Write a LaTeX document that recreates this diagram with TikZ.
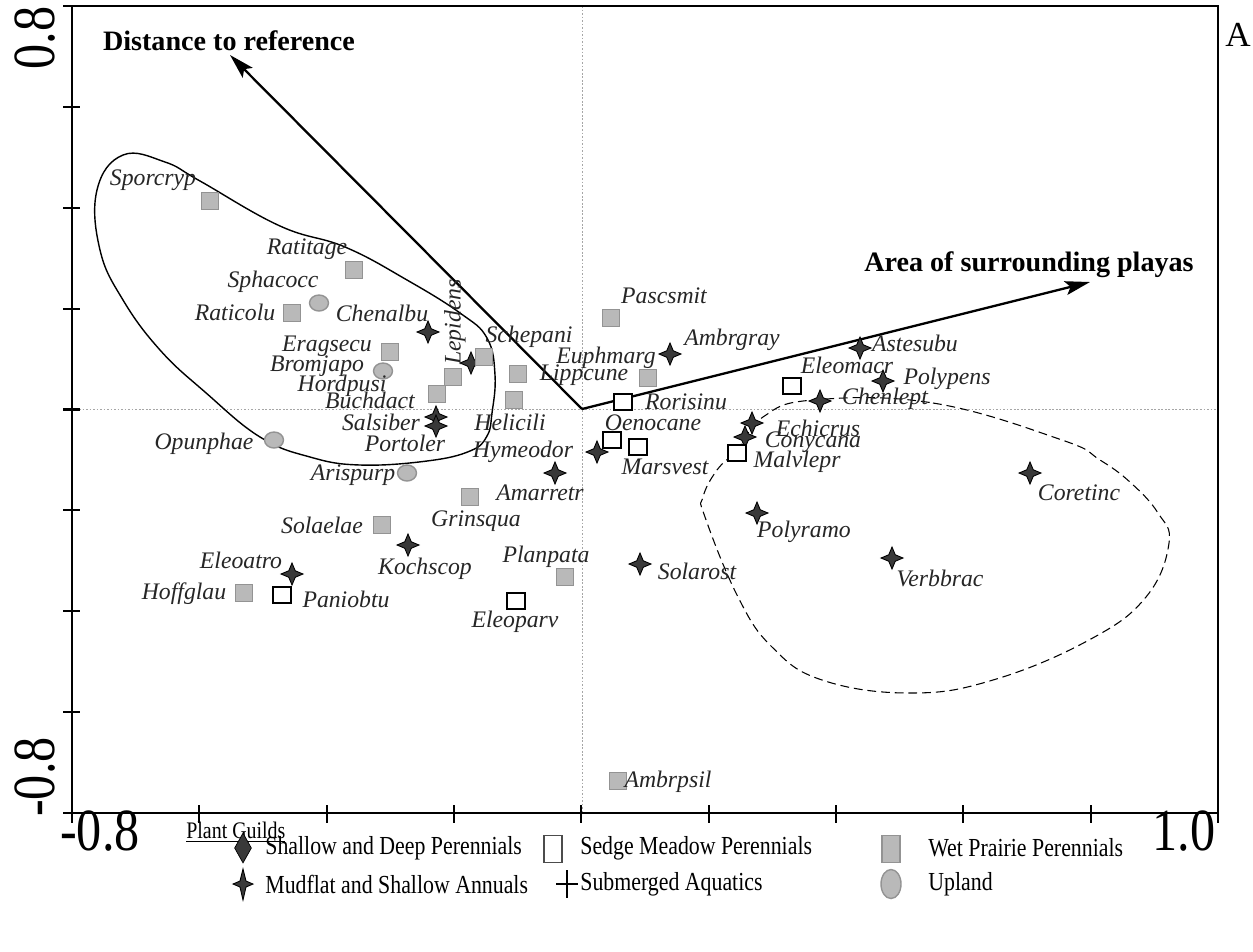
\documentclass[tikz,border=0pt]{standalone}
\usepackage{fontspec}
\setmainfont{Liberation Serif}
\newfontfamily\legfont[FakeStretch=0.84]{Liberation Serif}
\usetikzlibrary{shapes.geometric,arrows.meta}

\tikzset{
  wetsq/.style={rectangle, draw=gray!85, fill=gray!55, line width=0.8pt, minimum size=0.33cm, inner sep=0pt},
  sedgesq/.style={rectangle, draw=black, fill=white, line width=1.3pt, minimum width=0.36cm, minimum height=0.32cm, inner sep=0pt},
  uplandpt/.style={ellipse, draw=gray!85, fill=gray!55, line width=0.8pt, minimum width=0.38cm, minimum height=0.32cm, inner sep=0pt},
  mudstar/.style={star, star points=4, star point ratio=2.4, draw=black, fill=gray!45!black, line width=0.5pt, minimum size=0.44cm, inner sep=0pt},
  spplab/.style={font=\fontsize{13.5}{14}\selectfont\itshape, inner sep=0pt, text=black!85},
  envlab/.style={font=\fontsize{16}{18}\selectfont\bfseries, inner sep=0pt},
  vec/.style={line width=1.3pt, -{Stealth[length=0.5cm, width=0.28cm, inset=0.1cm]}},
  axnum/.style={font=\legfont\fontsize{34}{34}\selectfont, inner sep=0pt},
  legtext/.style={font=\legfont\fontsize{14.8}{16}\selectfont, anchor=west, inner sep=0pt},
  zeroline/.style={gray!70, line width=0.5pt, dash pattern=on 1pt off 1pt},
}

\newcommand{\wetnode}[3] {\node at (#2) (#1) [wetsq] {}; \node at (#3) (#1-lab) [spplab] {#1};}
\newcommand{\sedgenode}[3] {\node at (#2) (#1) [sedgesq] {}; \node at (#3) (#1-lab) [spplab] {#1};}
\newcommand{\mudnode}[3] {\node at (#2) (#1) [mudstar] {}; \node at (#3) (#1-lab) [spplab] {#1};}
\newcommand{\uplandnode}[3] {\node at (#2) (#1) [uplandpt] {}; \node at (#3) (#1-lab) [spplab] {#1};}

\begin{document}
\begin{tikzpicture}[x=0.02cm, y=-0.02cm]

\path[use as bounding box, fill=white] (0,0) rectangle (1253,951);

% zero lines
\draw[zeroline] (582,6) -- (582,813);
\draw[zeroline] (72,409) -- (1218,409);

% groups
\draw[line width=0.8pt] plot[smooth cycle, tension=0.7] coordinates {(123,155) (165,162) (200,181) (280,226) (345,247) (407,280) (460,313) (487,338) (495,375) (492,413) (487,436) (470,451) (427,461) (360,465) (310,457) (260,437) (205,392) (160,350) (123,300) (100,250) (97,190)};
\draw[line width=0.6pt, dash pattern=on 5pt off 2.8pt] plot[smooth cycle, tension=0.7] coordinates {(813,400) (933,403) (1062,440) (1100,460) (1131,483) (1158,513) (1169,543) (1146,597) (1089,640) (993,680) (910,693) (822,680) (772,647) (738,597) (705,517) (703,497) (717,470) (737,450) (763,417)};

% environmental vectors
\coordinate (origin) at (582,409);
\coordinate (disttip) at (230,55);
\coordinate (areatip) at (1090,282);
\draw[vec] (origin) -- (disttip);
\draw[vec] (origin) -- (areatip);
\node at (229,41) (distlab) [envlab] {Distance to reference};
\node at (1029,265) (arealab) [envlab] {Area of surrounding playas};

% species
\wetnode {Sporcryp}{210,201}{153,180};
\wetnode {Ratitage}{354,270}{307,249};
\uplandnode {Sphacocc}{319,303}{273,282};
\wetnode {Raticolu}{292,313}{235,312};
\mudnode {Chenalbu}{428,332}{382,313};
\wetnode {Eragsecu}{390,352}{327,346};
\uplandnode {Bromjapo}{383,371}{317,366};
\wetnode {Hordpusi}{453,377}{342,386};
\wetnode {Buchdact}{437,394}{370,400};
\node at (471,363) (Lepidens) [mudstar] {};
\node at (455,322) (Lepidens-lab) [spplab, rotate=90] {Lepidens};
\mudnode {Salsiber}{436,417}{381,422};
\mudnode {Portoler}{436,426}{405,443};
\wetnode {Schepani}{484,357}{529,337};
\wetnode {Lippcune}{518,374}{584,375};
\wetnode {Helicili}{514,400}{510,422};
\uplandnode {Opunphae}{274,440}{204,444};
\uplandnode {Arispurp}{407,473}{353,475};
\mudnode {Hymeodor}{597,452}{523,452};
\mudnode {Amarretr}{555,473}{540,493};
\wetnode {Pascsmit}{611,318}{664,296};
\mudnode {Ambrgray}{670,354}{732,340};
\wetnode {Euphmarg}{648,378}{606,358};
\sedgenode {Rorisinu}{623,402}{686,402};
\sedgenode {Oenocane}{612,440}{653,423};
\sedgenode {Marsvest}{638,447}{665,467};
\sedgenode {Eleomacr}{792,386}{847,365};
\mudnode {Astesubu}{860,348}{915,343};
\mudnode {Polypens}{883,381}{947,379};
\mudnode {Chenlept}{820,401}{885,399};
\mudnode {Echicrus}{752,423}{818,428};
\mudnode {Conycana}{745,437}{813,442};
\sedgenode {Malvlepr}{737,453}{797,462};
\mudnode {Polyramo}{757,513}{804,532};
\mudnode {Coretinc}{1030,473}{1079,493};
\mudnode {Verbbrac}{892,558}{940,578};
\mudnode {Solarost}{640,564}{697,571};
\wetnode {Grinsqua}{470,497}{476,521};
\wetnode {Solaelae}{382,525}{322,525};
\mudnode {Kochscop}{408,545}{425,569};
\mudnode {Eleoatro}{292,574}{241,560};
\wetnode {Hoffglau}{244,593}{184,594};
\sedgenode {Paniobtu}{282,595}{346,599};
\wetnode {Planpata}{565,577}{546,557};
\sedgenode {Eleoparv}{516,601}{515,622};
\wetnode {Ambrpsil}{618,781}{668,782};

% frame and ticks
\draw[line width=1.6pt] (72,6) rectangle (1218,813);
\foreach \k in {0,...,9} \draw[line width=1.2pt] ({72+127.33*\k},805) -- ({72+127.33*\k},823);
\foreach \k in {0,...,8} \draw[line width=1.2pt] (63,{6+100.875*\k}) -- (80,{6+100.875*\k});

\node at (35,38) (ytop) [axnum, rotate=90] {0.8};
\node at (35,777) (ybot) [axnum, rotate=90] {-0.8};
\node at (100,831) (xleft) [axnum] {-0.8};
\node at (1184,831) (xright) [axnum] {1.0};
\node at (1238,35) (panel) [font=\fontsize{20}{20}\selectfont, inner sep=0pt] {A};

% legend
\node at (186,832) (legtitle) [legtext, font=\legfont\fontsize{13.5}{15}\selectfont] {\underline{Plant Guilds}};
\node at (243,848) (legdeep) [diamond, draw=black, fill=gray!45!black, minimum width=0.34cm, minimum height=0.6cm, inner sep=0pt] {};
\node at (265,848) (legdeeptext) [legtext] {Shallow and Deep Perennials};
\node at (553,849) (legsedge) [rectangle, draw=gray!60!black, fill=white, line width=0.8pt, minimum width=0.36cm, minimum height=0.54cm, inner sep=0pt] {};
\node at (580,848) (legsedgetext) [legtext] {Sedge Meadow Perennials};
\node at (891,849) (legwet) [rectangle, draw=gray!85, fill=gray!55, line width=0.8pt, minimum width=0.36cm, minimum height=0.54cm, inner sep=0pt] {};
\node at (928,848) (legwettext) [legtext] {Wet Prairie Perennials};
\draw[draw=black, fill=gray!45!black, line width=0.5pt] (243,869) -- (246,881) -- (253,884) -- (246,887) -- (243,900) -- (240,887) -- (233,884) -- (240,881) -- cycle;
\node at (265,884) (legmudtext) [legtext] {Mudflat and Shallow Annuals};
\draw[line width=0.8pt] (567,870) -- (567,898) (556,884) -- (578,884);
\node at (580,884) (legsubtext) [legtext] {Submerged Aquatics};
\node at (891,884) (legupland) [ellipse, draw=gray!85, fill=gray!55, line width=0.8pt, minimum width=0.4cm, minimum height=0.58cm, inner sep=0pt] {};
\node at (928,884) (leguplandtext) [legtext] {Upland};

\end{tikzpicture}
\end{document}
